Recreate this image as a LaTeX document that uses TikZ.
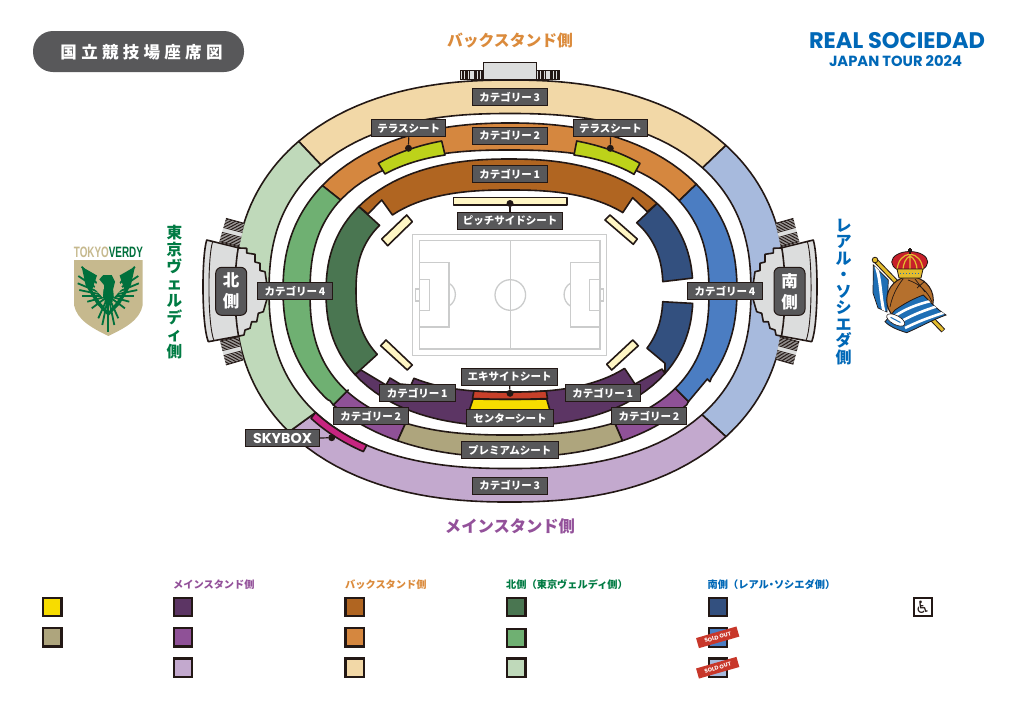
\documentclass[tikz,border=0pt]{standalone}
\usepackage{fontspec}
\usetikzlibrary{calc}
\newfontfamily\jpf{Noto Sans CJK JP}
\newfontfamily\popf{Poppins}
\newfontfamily\djvf{DejaVu Sans}
\newfontfamily\libf{Liberation Sans}
\definecolor{linek}{HTML}{231815}
\definecolor{lblgrey}{HTML}{58585A}
\definecolor{gatefill}{HTML}{DCDDDD}
\definecolor{pitchline}{HTML}{CBCCCC}
\definecolor{backA}{HTML}{B06521}
\definecolor{backB}{HTML}{D5873F}
\definecolor{backC}{HTML}{F2D8A7}
\definecolor{mainA}{HTML}{5C3564}
\definecolor{mainB}{HTML}{8F5197}
\definecolor{mainC}{HTML}{C3A9CE}
\definecolor{northA}{HTML}{4A7651}
\definecolor{northB}{HTML}{6FB072}
\definecolor{northC}{HTML}{BFD9BA}
\definecolor{southA}{HTML}{33507F}
\definecolor{southB}{HTML}{4B7DC2}
\definecolor{southC}{HTML}{A7BADD}
\definecolor{premium}{HTML}{AEA57D}
\definecolor{centerY}{HTML}{F7DC00}
\definecolor{exciteR}{HTML}{C8402A}
\definecolor{skymag}{HTML}{C72580}
\definecolor{creamS}{HTML}{FFF6C4}
\definecolor{limeS}{HTML}{BDD21A}
\definecolor{txtO}{HTML}{DB8B3C}
\definecolor{txtP}{HTML}{93519A}
\definecolor{txtG}{HTML}{007B43}
\definecolor{txtB}{HTML}{0068B7}
\definecolor{verdyG}{HTML}{00703C}
\definecolor{verdyT}{HTML}{C6B98E}
\definecolor{stampR}{HTML}{C8372A}
\definecolor{rsBlue}{HTML}{1F6FB5}
\definecolor{rsGold}{HTML}{E3BC2E}
\definecolor{rsBrown}{HTML}{B5702D}
\definecolor{rsRed}{HTML}{C8202A}
% superelliptic boundary, sampled by polar angle
\def\crvp#1#2#3#4#5#6#7{plot[domain=#6:#7,samples=45] ({#1+rr(\x,#3,#4,#5)*cos(\x)},{#2-rr(\x,#3,#4,#5)*sin(\x)})}
\def\crvl#1#2#3#4#5#6#7{-- plot[domain=#6:#7,samples=45] ({#1+rr(\x,#3,#4,#5)*cos(\x)},{#2-rr(\x,#3,#4,#5)*sin(\x)})}
\def\Oiii{\crvp{510}{291}{275}{211}{2.3}}
\def\lIiii{\crvl{510}{291}{241}{177.5}{2.4}}
\def\Iiii{\crvp{510}{291}{241}{177.5}{2.4}}
\def\lSsky{\crvl{510}{291}{248}{184.5}{2.4}}
\def\Oii{\crvp{510}{290}{227}{167}{2.25}}
\def\lOii{\crvl{510}{290}{227}{167}{2.25}}
\def\lIii{\crvl{509.5}{292.5}{199.5}{142.5}{2.5}}
\def\Oi{\crvp{509.5}{292.5}{183.5}{133.5}{2.3}}
\def\lIi{\crvl{509.5}{291}{153.5}{101}{2.5}}
\def\Ii{\crvp{509.5}{291}{153.5}{101}{2.5}}
\newcommand\ventpiece[4]{%
  \fill[gatefill] (#1)--(#2)--(#3)--(#4)--cycle;
  \foreach \t in {0.03,0.09,...,0.42,0.6,0.66,...,1.0}
    \draw[linek,line width=.8pt] ($(#1)!\t!(#4)$)--($(#2)!\t!(#3)$);
  \draw[linek,line width=.8pt] (#1)--(#2) (#4)--(#3);
}
\newcommand\gatepiece{%
  \filldraw[seatline,fill=gatefill] (206.7,240)--(239.3,248)--(246.7,248.3)--(246.7,253)--(255,254.3)--(255,262)--(260,263.3)--(260,270.5)--(265,271.7)--(266.7,283)--(266.7,300)--(263.3,311.7)--(258.3,313.3)--(256.7,321.7)--(251.7,321.7)--(250,328.3)--(245,330)--(244,335)--(239.3,336)--(208.3,341.7) .. controls (201.5,325) and (201.5,257) .. (206.7,240)--cycle;
  \draw[linek,line width=.9pt] (212.7,241.5) .. controls (207.5,257) and (207.5,325) .. (214,340.5);
  \draw[seatline] \Oiii{171}{189.4};
}
\tikzset{
  declare function={rr(\t,\a,\b,\n)=\a/pow(pow(abs(cos(\t))+0.0001,\n)+pow(\a/\b*abs(sin(\t))+0.0001,\n),1/\n);},
  seatline/.style={draw=linek,line width=1.6pt,line join=round},
  lbl/.style={draw=linek,line width=.9pt,fill=lblgrey,text=white,inner sep=0pt,minimum height=17pt,font=\jpf\bfseries\fontsize{10.5}{10.5}\selectfont},
  seatdot/.style={circle,fill=linek,inner sep=0pt,minimum size=7pt},
  conn/.style={draw=linek,line width=1.2pt},
  swatch/.style={draw=linek,line width=2.2pt,minimum size=18.4pt,inner sep=0pt},
  legendhead/.style={anchor=west,inner sep=0pt,font=\jpf\bfseries\fontsize{10.2}{10.2}\selectfont},
  sidetitle/.style={inner sep=0pt,font=\jpf\bfseries\fontsize{15.8}{15.8}\selectfont},
  vtitle/.style={inner sep=0pt,align=center,font=\jpf\bfseries\fontsize{15.6}{17.1}\selectfont},
  gatetile/.style={draw=linek,line width=1pt,fill=lblgrey,rounded corners=6pt,text=white,minimum width=31pt,minimum height=48pt,inner sep=0pt,align=center,font=\jpf\bfseries\fontsize{16.5}{21}\selectfont},
  stamp/.style={fill=stampR,text=white,rotate=16,minimum width=42pt,minimum height=10.5pt,inner sep=0pt,font=\popf\bfseries\fontsize{5.6}{5.6}\selectfont},
  pitchl/.style={draw=pitchline,line width=1.3pt},
}
\begin{document}
\begin{tikzpicture}[x=1pt,y=-1pt]
\useasboundingbox (0,0) rectangle (1024,724);
\fill[white] (0,0) rectangle (1024,724);

% header
\node[fill=lblgrey,rounded corners=20pt,minimum width=211pt,minimum height=41pt,inner sep=0pt] (pill) at (138.5,51.5) {};
\node[text=white,inner sep=0pt,font=\jpf\bfseries\fontsize{16.5}{16.5}\selectfont\addfontfeature{LetterSpace=26}] (ptitle) at (141.5,52) {国立競技場座席図};
\node[sidetitle,text=txtO] (tback) at (510,41) {バックスタンド側};
\node[sidetitle,text=txtP,font=\jpf\bfseries\fontsize{16.3}{16.3}\selectfont] (tmain) at (510,526) {メインスタンド側};
\node[inner sep=0pt,text=txtB,font=\popf\bfseries] (rs1) at (897,40.5) {\resizebox{176pt}{!}{REAL SOCIEDAD}};
\node[inner sep=0pt,text=txtB,font=\popf\bfseries] (rs2) at (895.5,61.5) {\resizebox{133pt}{!}{JAPAN TOUR 2024}};
\node[vtitle,text=txtG] (tnorth) at (174.5,292) {東\\京\\ヴ\\ェ\\ル\\デ\\ィ\\側};
\node[vtitle,text=txtB,font=\jpf\bfseries\fontsize{16}{16.5}\selectfont] (tsouth) at (843.5,292) {レ\\ア\\ル\\・\\ソ\\シ\\エ\\ダ\\側};

% back stand top structure
\ventpiece{460,70.7}{460,79.3}{483.3,79.3}{483.3,70.7}
\ventpiece{536,70.7}{536,79.3}{559.3,79.3}{559.3,70.7}
\draw[linek,line width=.8pt] (460,70.7) rectangle (483.3,79.3) (536,70.7) rectangle (559.3,79.3);
\filldraw[fill=gatefill,draw=linek,line width=1pt] (483.3,79.5)--(483.3,62.7)--(536,62.7)--(536,79.5)--cycle;

% ring 3
\filldraw[seatline,fill=backC]  \Oiii{144.7}{34} \lIiii{32.6}{146.3} -- cycle;
\filldraw[seatline,fill=southC] \Oiii{34}{-34} \lIiii{-32.8}{32.6} -- cycle;
\filldraw[seatline,fill=mainC]  \Oiii{212.5}{326} \lIiii{327.2}{212} -- cycle;
\filldraw[seatline,fill=northC] \Oiii{144.7}{212.5} \lIiii{212}{146.3} -- cycle;

% ring 2
\filldraw[seatline,fill=backB]   \Oii{150.9}{29.6} \lIii{28.4}{151.3} -- cycle;
\filldraw[seatline,fill=mainB]   (688.5,401.5) \lOii{-33}{-53.3} \lIii{-51.1}{-30} -- cycle;
\filldraw[seatline,fill=southB]  \Oii{29.6}{-23.6} -- (710,381.7) -- (707.3,379) -- (688.5,401.5) \lIii{-30}{28.4} -- cycle;
\filldraw[seatline,fill=mainB]   (333.3,405) \lOii{214}{233.3} \lIii{231.5}{211.2} -- cycle;
\filldraw[seatline,fill=premium] \Oii{233.3}{306.7} \lIii{308.9}{231.5} -- cycle;
\filldraw[seatline,fill=northB]  \Oii{150.9}{211} -- (330,400.7) -- (333.3,405) -- (348.3,390) \lIii{211.2}{151.3} -- cycle;

% ring 1
\filldraw[seatline,fill=mainA]  \Oi{208}{332.5} -- (662,369) -- (635,384) -- (625,369) \lIi{326}{222.4} -- (411,385) -- (400,384) -- (390,378) -- (386,385) -- (361,370) -- cycle;
\filldraw[seatline,fill=backA]  \Oi{150.3}{31.1} -- (647.3,211.7) -- (632.7,197.7) -- (622.7,212.7) \lIi{34.7}{147} -- (381.7,200) -- (368,214) -- cycle;
\filldraw[seatline,fill=northA] \Oi{150.3}{208} \lIi{205.6}{153.2} -- cycle;
\filldraw[seatline,fill=southA] \Oi{31.1}{4.5} \lIi{3.5}{28.2} -- cycle;
\filldraw[seatline,fill=southA] \Oi{-3.4}{-27.5} -- (665,363.3) \lIi{-22.6}{-4} -- cycle;

% centre seats
\filldraw[seatline,fill=centerY] (473,399) .. controls (495,399.5) and (525,399.5) .. (546.7,399) -- (551,414) -- (468,414) -- cycle;
\filldraw[seatline,fill=exciteR] \Ii{250.4}{290.2} -- (547.5,398.5) .. controls (525,399.5) and (495,399.5) .. (472.5,398.5) -- cycle;

% terrace seats
\filldraw[seatline,fill=limeS] (378.3,163.3) .. controls (398,152) and (420,145) .. (441.7,141) -- (445,155) .. controls (425,158) and (403,164) .. (385,174) -- cycle;
\filldraw[seatline,fill=limeS] (640,163.3) .. controls (620,152) and (598,145) .. (576.7,141) -- (574,155) .. controls (595,158) and (616,164) .. (634,174.3) -- cycle;

% skybox
\filldraw[seatline,fill=skymag] \Iiii{212}{227.1} \lSsky{227.6}{212.6} -- cycle;

% pitch-side seats
\filldraw[seatline,fill=creamS] (453.5,197.5) rectangle (567,205);
\filldraw[seatline,fill=creamS] (406.7,215)--(412.3,221.7)--(387.7,245.7)--(381.7,239)--cycle;
\filldraw[seatline,fill=creamS] (610,215)--(637.3,239)--(633.3,244.3)--(605,220)--cycle;
\filldraw[seatline,fill=creamS] (386,340)--(412.3,365)--(407.3,370)--(380.7,345.7)--cycle;
\filldraw[seatline,fill=creamS] (632.7,340)--(638.3,345.7)--(611.7,370)--(606.7,364.3)--cycle;

% pitch
\draw[pitchl] (412.7,234.3) rectangle (606.7,355.7);
\draw[pitchl] (419.3,240.3) rectangle (600,349);
\draw[pitchl] (510.3,240.3)--(510.3,349);
\draw[pitchl] (510.3,295) circle (15.3);
\draw[pitchl] (419.3,262.3) rectangle (449,327);
\draw[pitchl] (419.3,279.7) rectangle (429.3,310.3);
\draw[pitchl] (415.3,289) rectangle (419.3,301);
\draw[pitchl] (449,283.3) .. controls (457.5,288) and (457.5,301) .. (449,306);
\draw[pitchl] (570.3,262.3) rectangle (600,327);
\draw[pitchl] (589.3,279.7) rectangle (600,310.3);
\draw[pitchl] (600,289) rectangle (603.3,301);
\draw[pitchl] (570.3,283.3) .. controls (562,288) and (562,301) .. (570.3,306);

% gates
\ventpiece{226,218.3}{244.3,223.3}{239.3,246.7}{219.3,241.7}
\ventpiece{226,365}{243.3,360}{238.3,336.7}{220,341}
\ventpiece{793.3,218.3}{775.7,223.3}{780.7,246.7}{799.3,241.7}
\ventpiece{793.3,364.3}{775.7,359.3}{780,336.7}{799.3,341.7}
\gatepiece
\begin{scope}[shift={(1020,0)},xscale=-1]
\gatepiece
\end{scope}
\node[gatetile] (north) at (231.2,291.3) {北\\側};
\node[gatetile] (south) at (789.5,291.3) {南\\側};

% labels
\node[lbl,minimum width=75pt] (c3t) at (509.7,97) {カテゴリー\,3};
\node[lbl,minimum width=75pt] (c2t) at (509.7,135.5) {カテゴリー\,2};
\node[lbl,minimum width=75pt] (c1t) at (509.7,174) {カテゴリー\,1};
\node[lbl,minimum width=74pt] (terL) at (408.7,128.3) {テラスシート};
\node[lbl,minimum width=74pt] (terR) at (610.5,128.3) {テラスシート};
\node[lbl,minimum width=104.6pt] (pside) at (510,220.5) {ピッチサイドシート};
\node[lbl,minimum width=75pt] (c4l) at (295,291.3) {カテゴリー\,4};
\node[lbl,minimum width=75pt] (c4r) at (725,291.3) {カテゴリー\,4};
\node[lbl,minimum width=96pt] (excite) at (509.7,377) {エキサイトシート};
\node[lbl,minimum width=75.5pt] (c1l) at (417.2,392.8) {カテゴリー\,1};
\node[lbl,minimum width=75.5pt] (c1r) at (602.8,392.8) {カテゴリー\,1};
\node[lbl,minimum width=75pt] (c2l) at (370.8,416) {カテゴリー\,2};
\node[lbl,minimum width=75pt] (c2r) at (649,416) {カテゴリー\,2};
\node[lbl,minimum width=86.6pt] (centre) at (510,418) {センターシート};
\node[lbl,minimum width=97pt] (prem) at (509.8,450) {プレミアムシート};
\node[lbl,minimum width=75pt] (c3b) at (509.7,485.5) {カテゴリー\,3};
\node[lbl,minimum width=73.6pt,font=\popf\bfseries] (sky) at (282.5,438) {\resizebox{59pt}{!}{SKYBOX}};

% connectors
\node[seatdot] (dTerL) at (408.5,148.3) {};
\node[seatdot] (dTerR) at (610.3,148.3) {};
\node[seatdot] (dPside) at (510,203.5) {};
\node[seatdot] (dExc) at (510,393.3) {};
\node[seatdot] (dSky) at (331.7,437.7) {};
\draw[conn] (terL.south) -- (dTerL);
\draw[conn] (terR.south) -- (dTerR);
\draw[conn] (pside.north) -- (dPside);
\draw[conn] (excite.south) -- (dExc);
\draw[conn] (sky.east) -- (dSky);

% legend
\node[legendhead,text=txtP] (hMain) at (173,585) {メインスタンド側};
\node[legendhead,text=txtO] (hBack) at (345,585) {バックスタンド側};
\node[legendhead,text=txtG] (hNorth) at (506,585) {北側（東京ヴェルディ側）};
\node[legendhead,text=txtB] (hSouth) at (707.5,585) {南側（レアル\kern-2.5pt・\kern-2.5ptソシエダ側）};
\node[swatch,fill=centerY] (s1) at (52.3,607) {};
\node[swatch,fill=premium] (s2) at (52.3,637.2) {};
\node[swatch,fill=mainA] (s3) at (183,607) {};
\node[swatch,fill=mainB] (s4) at (183,637.2) {};
\node[swatch,fill=mainC] (s5) at (183,667.7) {};
\node[swatch,fill=backA] (s6) at (354.7,607) {};
\node[swatch,fill=backB] (s7) at (354.7,637.2) {};
\node[swatch,fill=backC] (s8) at (354.7,667.7) {};
\node[swatch,fill=northA] (s9) at (516.3,607) {};
\node[swatch,fill=northB] (s10) at (516.3,638) {};
\node[swatch,fill=northC] (s11) at (516.3,667.7) {};
\node[swatch,fill=southA] (s12) at (717.8,607) {};
\node[swatch,fill=southB] (s13) at (717.8,637.5) {};
\node[swatch,fill=southC] (s14) at (717.8,667.7) {};
\node[swatch,fill=white,text=linek,font=\djvf\fontsize{17}{17}\selectfont] (s15) at (922.8,607) {♿};
\node[stamp] (sold1) at (717.7,637.3) {SOLD OUT};
\node[stamp] (sold2) at (717.7,667.7) {SOLD OUT};

% Tokyo Verdy crest
\node[inner sep=0pt,font=\libf\bfseries] (vname) at (108.4,252.5) {\resizebox{69pt}{10.5pt}{\textcolor{verdyT}{TOKYO}\textcolor{verdyG}{VERDY}}};
\fill[verdyT] (74,260)--(142.7,260)--(142.7,305) .. controls (140,320) and (125,328) .. (108.3,336) .. controls (92,328) and (77,320) .. (74,305)--cycle;
\foreach \px/\py in {81.7/266.7,78.3/276,77.7/283.3,79.3/290,82.3/296,87.3/301.7,91.7/308.3,98.3/318.3,102.3/325}{
  \draw[verdyG,line width=1.8pt] (108.3,296)--(\px,\py);
  \draw[verdyG,line width=1.8pt] (108.3,296)--({216.6-\px},\py);
}
\draw[verdyG,line width=1.8pt] (108.3,296)--(108.3,331.7);
\fill[verdyG] (81.7,266.7) -- (97,275.5) -- (92,290) -- (100,302) -- (108.3,312) -- (116.6,302) -- (124.6,290) -- (119.6,275.5) -- (134.9,266.7) -- (131,285) -- (120,304) -- (108.3,316) -- (96.6,304) -- (85.6,285) -- cycle;
\fill[verdyT] (99,278.3) -- (94.3,288.3) -- (102.7,297.3) -- (104,283.3) -- cycle;
\fill[verdyT] (117.6,278.3) -- (122.3,288.3) -- (113.9,297.3) -- (112.6,283.3) -- cycle;
\fill[verdyG] (99.3,279.3) -- (103.3,275) -- (111.7,275) -- (115,281.7) -- (113,290) -- (112.5,302) -- (104.6,302) -- (104,285) -- cycle;

% Real Sociedad crest
\draw[linek,line width=5pt] (875,260)--(943.3,330.7);
\draw[rsGold,line width=3pt] (875.5,260.5)--(942.8,330.2);
\filldraw[fill=rsGold,draw=linek,line width=.8pt] (875,260) circle (2.8);
\filldraw[fill=rsBlue,draw=linek,line width=.7pt] (873.3,265) -- (888.3,280) -- (887,312) -- (878,308) -- (873,293) -- cycle;
\begin{scope}
\clip (873.3,265) -- (888.3,280) -- (887,312) -- (878,308) -- (873,293) -- cycle;
\draw[white,line width=3pt] (876,266) .. controls (881,280) and (880,295) .. (884,312);
\end{scope}
\filldraw[fill=rsBrown,draw=linek,line width=1pt] (910,300) circle (23.3);
\draw[linek,line width=.7pt] (908,280) .. controls (920,284) and (928,292) .. (932,302) (903,279) .. controls (896,288) and (892,297) .. (890,307) (915,279) -- (925,292) (917,288) -- (925,281);
\filldraw[fill=rsBlue,draw=linek,line width=.8pt] (895,310) .. controls (905,303) and (915,298) .. (923.3,295) .. controls (930,302) and (938,310) .. (946,315) .. controls (932,320) and (920,327) .. (906.7,332.7) .. controls (898,330) and (890,327) .. (885,321.7) -- cycle;
\begin{scope}
\clip (895,310) .. controls (905,303) and (915,298) .. (923.3,295) .. controls (930,302) and (938,310) .. (946,315) .. controls (932,320) and (920,327) .. (906.7,332.7) .. controls (898,330) and (890,327) .. (885,321.7) -- cycle;
\draw[white,line width=2.6pt] (895,316) .. controls (905,309) and (918,304) .. (931,301);
\draw[white,line width=2.6pt] (900,322) .. controls (912,315) and (925,310) .. (938,306);
\draw[white,line width=2.6pt] (905,328) .. controls (917,322) and (930,317) .. (946,312);
\end{scope}
\filldraw[fill=white,draw=linek,line width=.6pt,rotate around={-28:(895.7,320)}] (895.7,320) ellipse (10 and 4.5);
\draw[rsBlue,line width=1pt,rotate around={-28:(895.7,320)}] (890,320) -- (901,320);
\filldraw[fill=rsRed,draw=linek,line width=.8pt] (909.7,262) ellipse (18 and 10.5);
\draw[rsGold,line width=1.2pt] (910,252) -- (910,272) (897,270) .. controls (898,260) and (903,255) .. (910,254) .. controls (917,255) and (922,260) .. (923,270) (903,271) .. controls (903,263) and (906,258) .. (910,256) .. controls (914,258) and (917,263) .. (917,271);
\filldraw[fill=rsGold,draw=linek,line width=.8pt] (897,269) -- (923,269) -- (921,278) -- (899,278) -- cycle;
\draw[rsBlue,line width=1pt,dotted] (900,273.5) -- (920,273.5);
\draw[linek,line width=1.2pt] (910,248) -- (910,253.5) (908,250) -- (912,250);
\end{tikzpicture}
\end{document}
